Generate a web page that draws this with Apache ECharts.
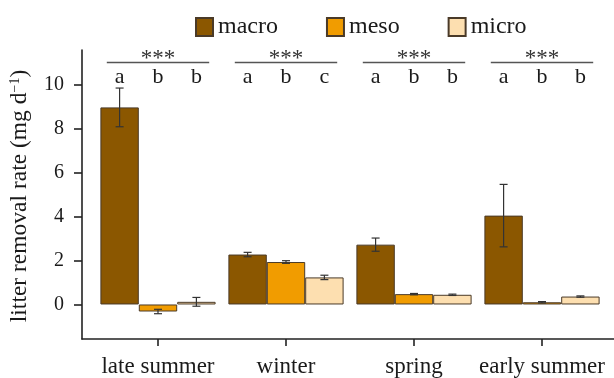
<!DOCTYPE html>
<html>
<head>
<meta charset="utf-8">
<script src="https://cdn.jsdelivr.net/npm/echarts@6/dist/echarts.min.js"></script>
<style>html,body{margin:0;padding:0;background:#fff}#c{width:614px;height:378px}</style>
</head>
<body>
<div id="c"></div>
<script>
const categories = ['late summer', 'winter', 'spring', 'early summer'];
const seriesNames = ['macro', 'meso', 'micro'];
const macro = [8.96, 2.27, 2.72, 4.04];
const macroErr = [0.88, 0.10, 0.30, 1.42];
const meso = [-0.32, 1.93, 0.47, 0.10];
const mesoErr = [0.10, 0.06, 0.03, 0.03];
const micro = [0.12, 1.23, 0.44, 0.36];
const microErr = [0.20, 0.10, 0.03, 0.03];
const macroLetters = ['a', 'a', 'a', 'a'];
const mesoLetters = ['b', 'b', 'b', 'b'];
const microLetters = ['b', 'c', 'b', 'b'];
const significance = ['***', '***', '***', '***'];
const yTicks = [0, 2, 4, 6, 8, 10];

const colors = ['#8B5700', '#F19C00', '#FDDFB0'];
const serif = '"Liberation Serif", "DejaVu Serif", serif';
const textColor = '#1a1a1a';
const Y_MIN = -1.57, Y_MAX = 11.57;
const LETTER_Y = 10.34, LINE_Y = 11.0, STAR_Y = 11.16;
const CAT_GAP = 0.1;

const values = [macro, meso, micro];
const errs = [macroErr, mesoErr, microErr];
const letters = [macroLetters, mesoLetters, microLetters];

const chart = echarts.init(document.getElementById('c'), null, {renderer: 'canvas'});

function barOffset(api, k) {
  const band = api.size([1, 0])[0];
  const bw = band * (1 - CAT_GAP) / 3;
  return (k - 1) * bw;
}

const barSeries = seriesNames.map((name, k) => ({
  name: name,
  type: 'bar',
  xAxisIndex: 1, yAxisIndex: 1,
  data: values[k],
  barGap: '0%',
  barCategoryGap: (CAT_GAP * 100) + '%',
  itemStyle: {color: colors[k], borderColor: '#4a3a28', borderWidth: 1},
  emphasis: {disabled: true}
}));

const errSeries = seriesNames.map((name, k) => ({
  type: 'custom',
  xAxisIndex: 1, yAxisIndex: 1,
  z: 5,
  data: categories.map((c, i) => [i, values[k][i], errs[k][i]]),
  renderItem: function (params, api) {
    const i = api.value(0), m = api.value(1), e = api.value(2);
    const cx = api.coord([i, m])[0] + barOffset(api, k);
    const top = api.coord([i, m + e])[1];
    const bot = api.coord([i, m - e])[1];
    const cap = 4;
    const st = {stroke: '#333', lineWidth: 1.2};
    return {type: 'group', children: [
      {type: 'line', shape: {x1: cx, y1: top, x2: cx, y2: bot}, style: st},
      {type: 'line', shape: {x1: cx - cap, y1: top, x2: cx + cap, y2: top}, style: st},
      {type: 'line', shape: {x1: cx - cap, y1: bot, x2: cx + cap, y2: bot}, style: st}
    ]};
  }
}));

const annotSeries = {
  type: 'custom',
  xAxisIndex: 1, yAxisIndex: 1,
  z: 6,
  data: categories.map((c, i) => [i]),
  renderItem: function (params, api) {
    const i = api.value(0);
    const cx = api.coord([i, 0])[0];
    const band = api.size([1, 0])[0];
    const half = band * 0.4;
    const children = [];
    const ly = api.coord([i, LINE_Y])[1];
    children.push({type: 'line', shape: {x1: cx - half, y1: ly, x2: cx + half, y2: ly},
      style: {stroke: '#555', lineWidth: 1.5}});
    children.push({type: 'text', x: cx, y: api.coord([i, STAR_Y])[1],
      style: {text: significance[i], font: '23px ' + serif, fill: '#333', align: 'center', verticalAlign: 'middle'}});
    for (let k = 0; k < 3; k++) {
      children.push({type: 'text', x: cx + barOffset(api, k), y: api.coord([i, LETTER_Y])[1],
        style: {text: letters[k][i], font: '22px ' + serif, fill: textColor, align: 'center', verticalAlign: 'middle'}});
    }
    return {type: 'group', children: children};
  }
};

const option = {
  animation: false,
  backgroundColor: '#fff',
  legend: {
    data: seriesNames,
    left: 190, top: 10,
    icon: 'rect',
    itemWidth: 17, itemHeight: 18, itemGap: 48,
    textStyle: {fontFamily: serif, fontSize: 24, color: textColor}
  },
  grid: [
    {left: 82, right: 0, top: 50, bottom: 39},
    {left: 94, right: 8, top: 50, bottom: 39}
  ],
  xAxis: [
    {gridIndex: 0, type: 'value', min: 0, max: 1,
     axisLine: {show: true, onZero: false, lineStyle: {color: '#222', width: 1.6}},
     axisTick: {show: false}, axisLabel: {show: false}, splitLine: {show: false}},
    {gridIndex: 1, type: 'category', data: categories,
     axisLine: {show: false, onZero: false},
     axisTick: {show: true, alignWithLabel: true, length: 7, lineStyle: {color: '#222', width: 1.6}},
     axisLabel: {interval: 0, margin: 16, fontFamily: serif, fontSize: 23, color: textColor},
     splitLine: {show: false}}
  ],
  yAxis: [
    {gridIndex: 0, type: 'value', min: Y_MIN, max: Y_MAX,
     axisLine: {show: true, lineStyle: {color: '#222', width: 1.6}},
     axisTick: {show: true, customValues: yTicks, length: 8, lineStyle: {color: '#222', width: 1.6}},
     axisLabel: {customValues: yTicks, margin: 18, fontFamily: serif, fontSize: 20, color: textColor},
     splitLine: {show: false}},
    {gridIndex: 1, type: 'value', min: Y_MIN, max: Y_MAX, show: false,
     splitLine: {show: false}}
  ],
  graphic: [{
    type: 'text', x: 20, y: 196, rotation: Math.PI / 2,
    style: {
      text: '{a|litter removal rate (mg d}{s|−1}{a|)}',
      align: 'center', verticalAlign: 'middle',
      rich: {
        a: {fontFamily: serif, fontSize: 23.5, fill: textColor, color: textColor},
        s: {fontFamily: serif, fontSize: 14, fill: textColor, color: textColor, verticalAlign: 'top', padding: [0, 0, 8, 0]}
      }
    }
  }],
  series: barSeries.concat(errSeries).concat([annotSeries])
};
chart.setOption(option);
</script>
</body>
</html>
